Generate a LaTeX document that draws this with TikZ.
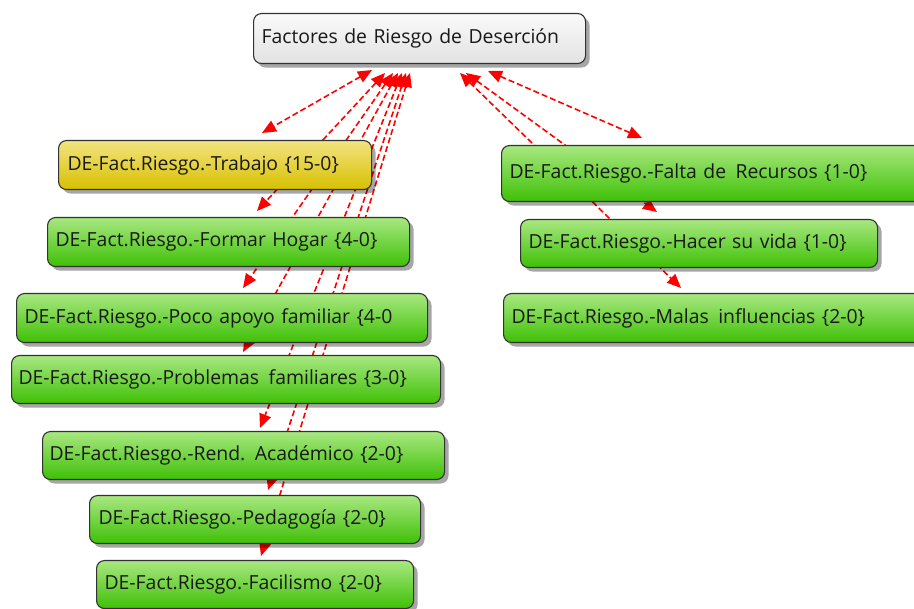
\documentclass[tikz,border=0pt]{standalone}
\usepackage{fontspec}
\setmainfont{Open Sans}
\usetikzlibrary{arrows.meta,shadows,backgrounds}
\definecolor{gtop}{RGB}{168,232,128}
\definecolor{gbot}{RGB}{62,192,6}
\definecolor{ytop}{RGB}{242,228,128}
\definecolor{ybot}{RGB}{216,192,0}
\definecolor{ttop}{RGB}{250,250,250}
\definecolor{tbot}{RGB}{226,226,226}
\definecolor{edge}{RGB}{50,50,50}
\definecolor{txt}{RGB}{25,25,25}
\definecolor{lnk}{RGB}{255,0,0}
\newcommand{\wsp}{\ \kern3pt}
\tikzset{
  box/.style={draw=edge, line width=1.1pt, rounded corners=8pt, anchor=north west,
    inner xsep=8pt, inner ysep=0pt, align=left, text=txt,
    font=\fontsize{19.4pt}{22pt}\selectfont,
    drop shadow={shadow xshift=4pt, shadow yshift=-4pt, opacity=0.35, fill=black}},
  greenbox/.style={box, top color=gtop, bottom color=gbot},
  yellowbox/.style={box, top color=ytop, bottom color=ybot},
  topbox/.style={box, top color=ttop, bottom color=tbot},
  conn/.style={draw=lnk, line width=1.6pt, dash pattern=on 6pt off 3pt,
    arrows={Triangle[length=14pt,width=12pt]-Triangle[length=14pt,width=12pt]}}
}
\begin{document}
\begin{tikzpicture}[x=1pt,y=-1pt]
\useasboundingbox (0,0) rectangle (914,609);
\clip (0,0) rectangle (914,609);
% nodes
\node[topbox, minimum width=332pt, minimum height=50pt, text width=316pt] (top) at (253,13) {Factores de Riesgo de Deserción};
\node[yellowbox, minimum width=313pt, minimum height=49pt, text width=295pt, inner xsep=9pt] (trab) at (58,140) {DE-Fact.Riesgo.-Trabajo \{15-0\}};
\node[greenbox, minimum width=362pt, minimum height=49pt, text width=346pt] (hogar) at (47,217) {DE-Fact.Riesgo.-Formar Hogar \{4-0\}};
\node[greenbox, minimum width=411pt, minimum height=49pt, text width=395pt] (poco) at (16,293) {DE-Fact.Riesgo.-Poco apoyo familiar \{4-0};
\node[greenbox, minimum width=429pt, minimum height=48pt, text width=415pt, inner xsep=7pt] (prob) at (11,355) {DE-Fact.Riesgo.-Problemas\wsp familiares \{3-0\}};
\node[greenbox, minimum width=402pt, minimum height=48pt, text width=388pt, inner xsep=7pt] (rend) at (42,431) {DE-Fact.Riesgo.-Rend.\wsp Académico \{2-0\}};
\node[greenbox, minimum width=331pt, minimum height=48pt, text width=313pt, inner xsep=9pt] (ped) at (89,495) {DE-Fact.Riesgo.-Pedagogía \{2-0\}};
\node[greenbox, minimum width=317pt, minimum height=48pt, text width=301pt] (facil) at (96,560) {DE-Fact.Riesgo.-Facilismo \{2-0\}};
\node[greenbox, minimum width=460pt, minimum height=56pt, text width=444pt] (falta) at (501,145) {DE-Fact.Riesgo.-Falta de\wsp Recursos \{1-0\}};
\node[greenbox, minimum width=357pt, minimum height=48pt, text width=341pt] (hacer) at (520,219) {DE-Fact.Riesgo.-Hacer su vida \{1-0\}};
\node[greenbox, minimum width=460pt, minimum height=49pt, text width=444pt] (malas) at (503,293) {DE-Fact.Riesgo.-Malas\wsp influencias \{2-0\}};
% connector end points
\coordinate (sTrab) at (372,70);  \coordinate (eTrab) at (262,133);
\coordinate (sHogar) at (385,73); \coordinate (eHogar) at (257,211);
\coordinate (sPoco) at (393,73);  \coordinate (ePoco) at (243,288);
\coordinate (sProb) at (398,73);  \coordinate (eProb) at (243,352);
\coordinate (sRend) at (402,73);  \coordinate (eRend) at (260,428);
\coordinate (sPed) at (406,73);   \coordinate (ePed) at (268,490);
\coordinate (sFacil) at (410,73); \coordinate (eFacil) at (261,556);
\coordinate (sFalta) at (488,71); \coordinate (eFalta) at (642,138);
\coordinate (sHacer) at (466,73); \coordinate (eHacer) at (657,212);
\coordinate (sMalas) at (460,73); \coordinate (eMalas) at (681,288);
\begin{scope}[on background layer]
\draw[conn] (sTrab) -- (eTrab);
\draw[conn] (sHogar) -- (eHogar);
\draw[conn] (sPoco) -- (ePoco);
\draw[conn] (sProb) -- (eProb);
\draw[conn] (sRend) -- (eRend);
\draw[conn] (sPed) -- (ePed);
\draw[conn] (sFacil) -- (eFacil);
\draw[conn] (sFalta) -- (eFalta);
\draw[conn] (sHacer) -- (eHacer);
\draw[conn] (sMalas) -- (eMalas);
\end{scope}
\end{tikzpicture}
\end{document}
